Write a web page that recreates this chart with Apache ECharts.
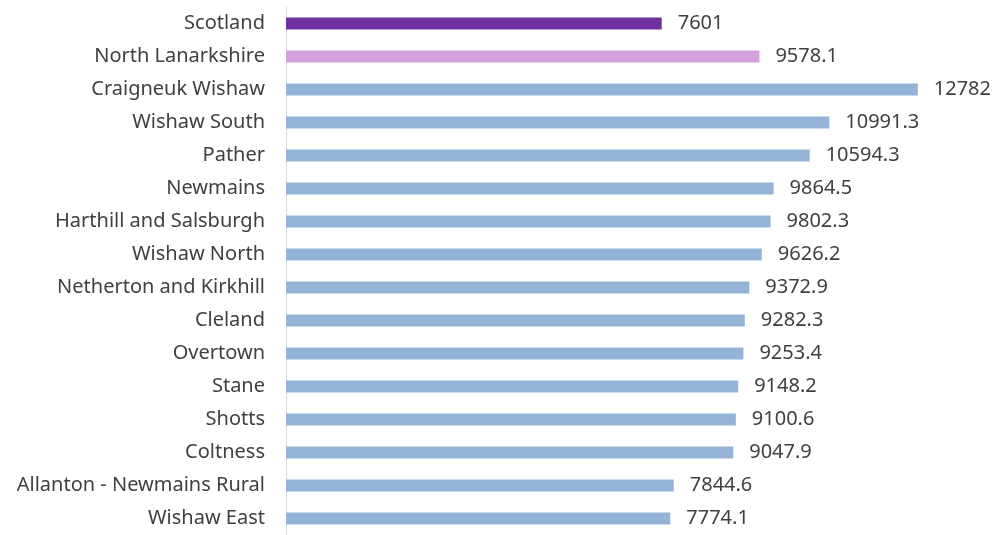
<!DOCTYPE html>
<html>
<head>
<meta charset="utf-8">
<script src="https://cdn.jsdelivr.net/npm/echarts@6/dist/echarts.min.js"></script>
<style>
html, body { margin: 0; padding: 0; background: #fff; }
#chart { width: 998px; height: 535px; }
</style>
</head>
<body>
<div id="chart"></div>
<script>
var areas = ['Scotland', 'North Lanarkshire', 'Craigneuk Wishaw', 'Wishaw South', 'Pather',
    'Newmains', 'Harthill and Salsburgh', 'Wishaw North', 'Netherton and Kirkhill', 'Cleland',
    'Overtown', 'Stane', 'Shotts', 'Coltness', 'Allanton - Newmains Rural', 'Wishaw East'];
var values = [7601, 9578.1, 12782, 10991.3, 10594.3, 9864.5, 9802.3, 9626.2, 9372.9, 9282.3,
    9253.4, 9148.2, 9100.6, 9047.9, 7844.6, 7774.1];
var barColors = ['#7030A0', '#D4A0DE'];
var defaultColor = '#95B3D7';

(function(){
    var myChart = echarts.init(document.getElementById('chart'));
    // build bar items, first two have their own colour
    var data = [];
    for (var i = 0; i < values.length; i++) {
        data.push({
            value: values[i],
            itemStyle: { color: barColors[i] || defaultColor }
        });
    }
    var option = {
        animation: false,
        grid: {
            left: 286,
            top: 7,
            width: 692,
            height: 532,
            containLabel: false
        },
        xAxis: {
            type: 'value',
            min: 0,
            max: 14000,
            show: false
        },
        yAxis: {
            type: 'category',
            inverse: true,
            data: areas,
            axisLine: { show: true, lineStyle: { color: '#D9D9D9', width: 1 } },
            axisTick: { show: false },
            axisLabel: {
                margin: 21,
                color: '#404040',
                fontSize: 20,
                fontFamily: 'Noto Sans, sans-serif'
            }
        },
        series: [{
            type: 'bar',
            data: data,
            barWidth: 12,
            label: {
                show: true,
                position: 'right',
                distance: 16,
                color: '#404040',
                fontSize: 20,
                fontFamily: 'Noto Sans, sans-serif'
            }
        }]
    };
    myChart.setOption(option);
})();
</script>
</body>
</html>
